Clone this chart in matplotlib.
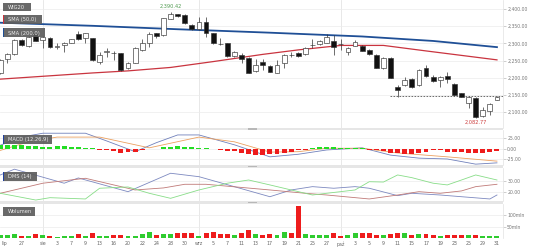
import matplotlib
matplotlib.use('Agg')
import matplotlib.pyplot as plt
from matplotlib.patches import Rectangle
from matplotlib.ticker import FuncFormatter, FixedLocator
import numpy as np

# ---------------- data ----------------
dates = ['07-24', '07-25', '07-26', '07-27', '07-30', '07-31',
         '08-01', '08-02', '08-03', '08-06', '08-07', '08-08', '08-09', '08-10',
         '08-13', '08-14', '08-16', '08-17', '08-20', '08-21', '08-22', '08-23',
         '08-24', '08-27', '08-28', '08-29', '08-30', '08-31',
         '09-03', '09-04', '09-05', '09-06', '09-07', '09-10', '09-11', '09-12',
         '09-13', '09-14', '09-17', '09-18', '09-19', '09-20', '09-21', '09-24',
         '09-25', '09-26', '09-27', '09-28',
         '10-01', '10-02', '10-03', '10-04', '10-05', '10-08', '10-09', '10-10',
         '10-11', '10-12', '10-15', '10-16', '10-17', '10-18', '10-19', '10-22',
         '10-23', '10-24', '10-25', '10-26', '10-29', '10-30', '10-31']

opens = [2214, 2254, 2268, 2310, 2292, 2329, 2310, 2315, 2290, 2295, 2302, 2326,
         2315, 2315, 2247, 2276, 2272, 2271, 2228, 2244, 2281, 2300, 2329, 2324,
         2372, 2384, 2383, 2353, 2342, 2363, 2329, 2298, 2300, 2263, 2266, 2257,
         2220, 2247, 2234, 2215, 2242, 2267, 2273, 2269, 2295, 2297, 2302, 2308,
         2298, 2276, 2293, 2292, 2281, 2266, 2228, 2258, 2172, 2179, 2196, 2179,
         2228, 2202, 2194, 2205, 2182, 2155, 2126, 2141, 2089, 2102, 2136]
highs = [2255, 2273, 2312, 2312, 2321, 2331, 2322, 2318, 2300, 2303, 2314, 2336,
         2331, 2317, 2276, 2286, 2279, 2273, 2245, 2288, 2312, 2334, 2331, 2375,
         2390.42, 2386, 2385, 2355, 2377, 2377, 2331, 2315, 2302, 2278, 2271, 2259,
         2254, 2254, 2237, 2252, 2269, 2276, 2276, 2288, 2312, 2310, 2326, 2325,
         2312, 2288, 2310, 2295, 2283, 2268, 2259, 2261, 2179, 2202, 2199, 2226,
         2237, 2208, 2204, 2218, 2184, 2157, 2147, 2143, 2115, 2126, 2148]
lows = [2210, 2244, 2266, 2292, 2290, 2306, 2286, 2286, 2283, 2276, 2300, 2311,
        2300, 2250, 2240, 2261, 2252, 2221, 2226, 2242, 2279, 2290, 2317, 2322,
        2371, 2378, 2356, 2339, 2340, 2319, 2297, 2295, 2261, 2261, 2242, 2213,
        2218, 2223, 2216, 2213, 2228, 2261, 2261, 2266, 2286, 2295, 2300, 2266,
        2281, 2266, 2291, 2277, 2267, 2228, 2226, 2198, 2145, 2177, 2170, 2177,
        2203, 2189, 2173, 2184, 2148, 2143, 2112, 2082.77, 2087, 2092, 2134]
closes = [2252, 2268, 2310, 2295, 2319, 2308, 2319, 2290, 2291, 2302, 2312, 2313,
          2329, 2252, 2266, 2277, 2271, 2223, 2242, 2286, 2302, 2327, 2320, 2373,
          2386, 2380, 2358, 2341, 2363, 2329, 2300, 2297, 2263, 2276, 2254, 2215,
          2237, 2237, 2218, 2237, 2266, 2266, 2263, 2286, 2296, 2308, 2319, 2290,
          2297, 2286, 2303, 2279, 2269, 2229, 2257, 2200, 2163, 2194, 2173, 2223,
          2205, 2192, 2202, 2196, 2150, 2145, 2145, 2085, 2107, 2124, 2145]
volume_mln = [15, 13, 18, 10, 10, 18, 13, 10, 6, 7, 10, 18, 10, 21, 10, 10, 13, 13,
              10, 10, 18, 25, 13, 16, 18, 22, 22, 22, 10, 21, 28, 18, 19, 15, 22, 35,
              19, 13, 18, 13, 25, 22, 139, 18, 13, 13, 13, 22, 7, 13, 21, 22, 21, 13,
              13, 18, 21, 21, 13, 18, 18, 12, 10, 13, 15, 15, 15, 13, 10, 10, 10]
macd_hist = [9, 9, 9, 8, 6, 7, 5, 5, 7, 6, 4, 3, 2, 0.5, -2, -4, -5, -9, -8, -7, -4,
             -1, 0.3, 3, 5, 7, 5, 3, 2, 1, -1, -3, -5, -6, -9, -12, -14, -14, -13,
             -13, -10, -7, -4, -2, 1, 3, 4, 3, 2, 2, 1, 0.5, -2, -4, -6, -9, -11,
             -12, -12, -9, -7, -4, -4, -7, -8, -8, -9, -11, -10, -8, -5]

# indicator lines read at selected sessions (positions in `dates`)
sma200_pos = [0, 13, 25, 38, 51, 61, 70]
sma200_val = [2360, 2351, 2341, 2331, 2320, 2307, 2289]
sma50_pos = [0, 13, 18, 24, 30, 34, 37, 42, 48, 54, 60, 70]
sma50_val = [2196, 2214, 2220, 2230, 2247, 2259, 2268, 2281, 2294, 2294, 2278, 2252]
macd_pos = [0, 3, 6, 12, 15, 19, 22, 25, 28, 33, 38, 42, 46, 51, 55, 59, 63, 67, 70]
macd_val = [8, 27, 36, 36, 18, -7, 14, 32, 32, 9, -19, -13, -3, 2, -15, -22, -24, -36, -33]
signal_pos = [0, 4, 8, 14, 21, 28, 33, 38, 42, 46, 51, 56, 63, 70]
signal_val = [-4, 16, 27, 27, 2, 27, 16, -8, -7, 1, 1, -10, -19, -29]
dms_adx_pos = [0, 2, 9, 11, 18, 24, 28, 38, 41, 44, 47, 50, 52, 56, 58, 62, 65, 69, 70]
dms_adx_val = [35.6, 41, 27.9, 32.8, 20, 37.2, 34, 15.3, 21.6, 24.7, 23.2, 24.7, 23.2,
               16.3, 18.5, 16.9, 15.3, 13.2, 16.9]
dms_minus_pos = [0, 6, 12, 19, 23, 26, 29, 38, 43, 46, 52, 56, 59, 62, 65, 67, 70]
dms_minus_val = [18.5, 27.9, 32.5, 21.6, 23.5, 26.9, 26.9, 21.6, 18.5, 16.9, 13.2,
                 16.9, 20, 18.5, 20.7, 24.7, 26.9]
dms_plus_pos = [0, 5, 7, 12, 14, 18, 21, 24, 28, 32, 35, 38, 41, 44, 46, 50, 52, 54,
                56, 58, 61, 63, 65, 67, 70]
dms_plus_val = [18.5, 12.2, 14.4, 13.2, 23.2, 24.4, 18.5, 13.8, 21.6, 27.9, 30.9, 26.3,
                21.6, 16.9, 18.5, 21.6, 29.3, 29, 35.6, 33.1, 27.9, 26.3, 30.9, 35.6, 30.9]

high_label = '2,390.42'
low_label = '2,082.77'
support_level = 2147
support_from = 55

tick_pos = [1, 3, 6, 8, 10, 12, 14, 16, 18, 20, 22, 24, 26, 28, 30, 32, 34, 36, 38,
            40, 42, 44, 46, 48, 50, 52, 54, 56, 58, 60, 62, 64, 66, 68, 70]
tick_labels = ['lip', '27', 'sie', '3', '7', '9', '13', '16', '20', '22', '24', '28',
               '30', 'wrz', '5', '7', '11', '13', '17', '19', '21', '25', '27', 'paź',
               '3', '5', '9', '11', '15', '17', '19', '23', '25', '29', '31']
month_pos = [6, 28, 48]

# ---------------- layout ----------------
W, H = 536, 249
fig = plt.figure(figsize=(W / 100, H / 100), dpi=100)
fig.patch.set_facecolor('white')
plot_right = 503


def axes_px(y0, y1):
    return fig.add_axes([0, 1 - y1 / H, plot_right / W, (y1 - y0) / H])


ax = axes_px(0, 128)
ax_m = axes_px(130, 165)
ax_d = axes_px(168, 201)
ax_v = axes_px(204, 238)

x = np.arange(len(dates))
o = np.array(opens); c = np.array(closes); hi = np.array(highs); lo = np.array(lows)
up = c >= o
xlim = (-0.04, 70.85)

TICK_FS = 3.3
GRID = '#ececec'
for a in (ax, ax_m, ax_d, ax_v):
    a.set_xlim(*xlim)
    for s in a.spines.values():
        s.set_visible(False)
    a.spines['right'].set_visible(True)
    a.spines['right'].set_color('#e2e2e2')
    a.spines['right'].set_linewidth(0.5)
    a.yaxis.tick_right()
    a.tick_params(axis='y', length=2, width=0.4, color='#aaaaaa', labelsize=TICK_FS,
                  labelcolor='#777777', pad=1)
    a.set_xticks([])
    a.grid(axis='y', color=GRID, linewidth=0.5)
    a.set_axisbelow(True)
    for mp in month_pos:
        a.axvline(mp, color='#e4e4e4', linewidth=0.6, zorder=0)

# ---- main candle panel ----
ax.set_ylim(2054, 2426)
ax.yaxis.set_major_locator(FixedLocator([2100, 2150, 2200, 2250, 2300, 2350, 2400]))
ax.yaxis.set_major_formatter(FuncFormatter(lambda v, p: f'{v:,.2f}'))
ax.plot(sma200_pos, sma200_val, color='#1f4f96', linewidth=1.3, zorder=2)
ax.plot(sma50_pos, sma50_val, color='#c9343f', linewidth=0.9, zorder=2)
ax.vlines(x, lo, hi, color='#333333', linewidth=0.5, zorder=3)
body_h = np.maximum(np.abs(c - o), 1.2)
body_b = np.minimum(o, c)
ax.bar(x, body_h, bottom=body_b, width=0.68,
       color=np.where(up, 'white', '#111111'), edgecolor='#333333', linewidth=0.45, zorder=4)
ax.hlines(support_level, support_from - 0.05, xlim[1], colors='#555555', linewidth=0.6,
          linestyles=(0, (2, 1.6)), zorder=3)
i_hi = int(np.argmax(hi)); i_lo = int(np.argmin(lo))
ax.annotate(high_label, (x[i_hi], hi[i_hi]), xytext=(0, 2.5), textcoords='offset points',
            ha='center', va='bottom', fontsize=3.6, color='#4f9a4f')
ax.annotate(low_label, (x[i_lo], lo[i_lo]), xytext=(0, -1.5), textcoords='offset points',
            ha='center', va='top', fontsize=3.6, color='#cc3b3b')

# ---- MACD ----
ax_m.set_ylim(-38, 43.5)
ax_m.yaxis.set_major_locator(FixedLocator([-25, 0, 25]))
ax_m.yaxis.set_major_formatter(FuncFormatter(lambda v, p: f'{v:.2f}'))
hist = np.array(macd_hist)
ax_m.bar(x, hist, width=0.7, color=np.where(hist >= 0, '#22dd22', '#ee1c1c'), zorder=3)
ax_m.plot(macd_pos, macd_val, color='#7080bb', linewidth=0.6, zorder=2)
ax_m.plot(signal_pos, signal_val, color='#eba060', linewidth=0.6, zorder=2)

# ---- DMS ----
ax_d.set_ylim(11.3, 42.1)
ax_d.yaxis.set_major_locator(FixedLocator([20, 30]))
ax_d.yaxis.set_major_formatter(FuncFormatter(lambda v, p: f'{v:.2f}'))
ax_d.plot(dms_adx_pos, dms_adx_val, color='#7d89c0', linewidth=0.6)
ax_d.plot(dms_minus_pos, dms_minus_val, color='#c07a78', linewidth=0.6)
ax_d.plot(dms_plus_pos, dms_plus_val, color='#88dd88', linewidth=0.6)

# ---- Volume ----
ax_v.set_ylim(0, 150)
ax_v.yaxis.set_major_locator(FixedLocator([50, 100]))
ax_v.yaxis.set_major_formatter(FuncFormatter(lambda v, p: f'{v:.0f}mln'))
ax_v.bar(x, volume_mln, width=0.7, color=np.where(up, '#2fcc2f', '#ee1c1c'), zorder=3)
ax_v.set_xticks(tick_pos)
ax_v.set_xticklabels(tick_labels)
ax_v.tick_params(axis='x', length=0, labelsize=3.4, labelcolor='#666666', pad=2.5)
ax_v.get_xticklabels()[0].set_ha('right')

# ---- panel separators ----
for y0, y1 in [(128, 130), (165, 168), (201, 204)]:
    fig.add_artist(Rectangle((0, 1 - y1 / H), plot_right / W, (y1 - y0) / H,
                             transform=fig.transFigure, facecolor='#e6e6e6',
                             edgecolor='none', zorder=5))
    gy = (y0 + y1) / 2
    fig.add_artist(Rectangle((248 / W, 1 - (gy + 0.7) / H), 9 / W, 1.4 / H,
                             transform=fig.transFigure, facecolor='#b8b8b8',
                             edgecolor='none', zorder=6))


# ---- legend boxes ----
def box(x0, y0, x1, y1, text, marker=None):
    fig.add_artist(Rectangle((x0 / W, 1 - y1 / H), (x1 - x0) / W, (y1 - y0) / H,
                             transform=fig.transFigure, facecolor='#5c5c5c', alpha=0.92,
                             edgecolor='none', zorder=10))
    if marker:
        fig.add_artist(Rectangle((x0 / W, 1 - y1 / H), 1.3 / W, (y1 - y0) / H,
                                 transform=fig.transFigure, facecolor=marker,
                                 edgecolor='none', zorder=11))
    fig.text((x0 + 5) / W, 1 - ((y0 + y1) / 2 + 0.2) / H, text, fontsize=3.7,
             color='#eeeeee', va='center', ha='left', zorder=12)


box(3, 2.7, 30.5, 11, 'WIG20')
box(2.7, 15, 41.7, 24, 'SMA (50,0)', '#d0303a')
box(2.7, 28.3, 45, 37.3, 'SMA (200,0)', '#1f4f96')
box(2.7, 135, 51.7, 144, 'MACD (12,26,9)', '#2040a0')
box(2.7, 171.7, 36.7, 180.7, 'DMS (14)', '#2040a0')
box(2.7, 207.3, 35, 216, 'Wolumen')

fig.savefig('out.png', dpi=100, facecolor='white')
